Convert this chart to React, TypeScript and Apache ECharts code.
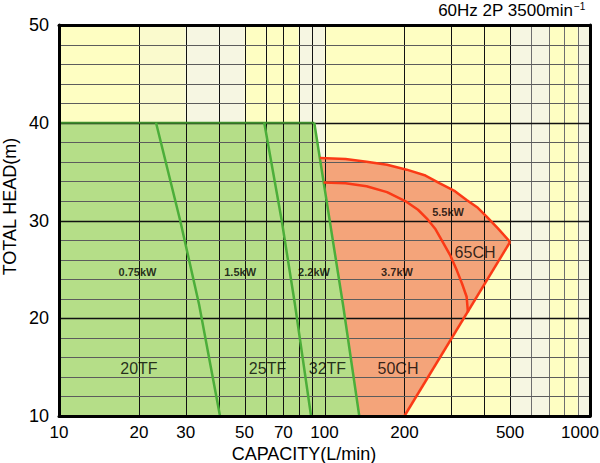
import React, { useEffect, useRef } from "react";
import * as echarts from "echarts";

// ---- axes ----
const xTickValues = [10, 20, 30, 50, 70, 100, 200, 500, 1000];
const yTickValues = [10, 20, 30, 40, 50];
const vGridValues = [20, 30, 40, 50, 60, 70, 80, 90, 100, 200, 300, 400, 500, 600, 700, 800, 900];
const vGridFaint = [600, 700, 800, 900];
const hGridValues = [12, 14, 16, 18, 20, 22, 24, 26, 28, 30, 32, 34, 36, 38, 40, 42, 44, 46, 48];
const hGridMajor = [20, 30, 40];

// ---- background stripes ----
const stripeFrom = [10, 20, 30, 40, 50, 60, 70, 80, 90, 100, 200, 300, 400, 500, 600, 700, 800, 900];
const stripeTo = [20, 30, 40, 50, 60, 70, 80, 90, 100, 200, 300, 400, 500, 600, 700, 800, 900, 1000];
const stripeTone = ["Y", "M", "P", "P", "Y", "Y", "Y", "P", "P", "Y", "Y", "Y", "Y", "P", "P", "Y", "Y", "P"];

// ---- pump ranges: [capacity L/min, total head m] ----
const tfArea = [[10, 10], [10, 40], [91.5, 40], [117.7, 21.2], [135.2, 10]];
const chArea = [[96, 36.4], [120, 36.3], [144, 36], [172, 35.7], [204, 35.2], [240, 34.6], [272, 33.8], [310, 33], [343, 32.1], [378, 31.3], [408, 30.4], [450, 29.2], [500, 27.8], [200, 10], [135.2, 10], [117.7, 21.2]];
const tfTopEdge = [[10, 40], [91.5, 40]];
const tfRightEdge = [[91.5, 40], [117.7, 21.2], [135.2, 10]];
const line075 = [[23.2, 40], [28.6, 30], [33.7, 21.4], [40.4, 10]];
const line15 = [[59.3, 40], [69, 30], [77.4, 21.4], [89, 10]];
const chOuter = [[96, 36.4], [120, 36.3], [144, 36], [172, 35.7], [204, 35.2], [240, 34.6], [272, 33.8], [310, 33], [343, 32.1], [378, 31.3], [408, 30.4], [450, 29.2], [500, 27.8]];
const chInner = [[99.2, 33.9], [120, 33.8], [144, 33.5], [172, 32.9], [204, 31.9], [225, 31.1], [243, 30.2], [262, 29.1], [280, 27.7], [298, 26.4], [315, 24.9], [330, 23.5], [343, 22.2], [347, 20.6]];
const chLower = [[500, 27.8], [200, 10]];

// ---- labels ----
const kwTexts = ["0.75kW", "1.5kW", "2.2kW", "3.7kW", "5.5kW"];
const kwQ = [19.75, 48.1, 91.3, 187.5, 292];
const kwH = [24.7, 24.7, 24.7, 24.7, 30.9];
const modelTexts = ["20TF", "25TF", "32TF", "50CH", "65CH"];
const modelQ = [20, 61, 102.6, 189.2, 369];
const modelH = [14.9, 14.9, 14.9, 14.9, 26.7];

const FONT = "'Liberation Sans', Arial, sans-serif";
const toneColor: Record<string, string> = { Y: "#fefec2", M: "#fafacd", P: "#f6f6e2" };
const GREEN_FILL = "#b5de88";
const ORANGE_FILL = "#f4a47a";
const GREEN_LINE = "#4cae3a";
const RED_LINE = "#fb3a16";

const crisp = (v: number) => Math.round(v) + 0.5;

export default function App() {
  const ref = useRef<HTMLDivElement>(null);
  useEffect(() => {
    if (!ref.current) return;
    const chart = echarts.init(ref.current, undefined, { renderer: "svg" });
    const gridItems = [
      ...vGridValues.map((v) => ({ dir: "v", v })),
      ...hGridValues.map((v) => ({ dir: "h", v })),
    ];
    const regions = [
      { pts: tfArea, color: GREEN_FILL },
      { pts: chArea, color: ORANGE_FILL },
    ];
    const axisLineStyle = { show: true, onZero: false, lineStyle: { color: "#000", width: 3 } };
    const option: any = {
      animation: false,
      backgroundColor: "#fff",
      grid: { left: 59, right: 10, top: 25, bottom: 47, outerBoundsMode: "none" },
      xAxis: [
        {
          type: "log",
          logBase: 10,
          min: 10,
          max: 1000,
          position: "bottom",
          z: 10,
          axisLine: axisLineStyle,
          axisTick: { show: false },
          minorTick: { show: false },
          splitLine: { show: false },
          axisLabel: {
            customValues: xTickValues,
            color: "#000",
            fontSize: 17,
            fontFamily: FONT,
            margin: 8,
            formatter: (v: number) => (v >= 1000 ? "{r|" + v + "}" : String(v)),
            rich: { r: { fontSize: 17, fontFamily: FONT, color: "#000", padding: [0, 20, 0, 0] } },
          },
        },
        {
          type: "log",
          logBase: 10,
          min: 10,
          max: 1000,
          position: "top",
          z: 10,
          axisLine: axisLineStyle,
          axisTick: { show: false },
          minorTick: { show: false },
          splitLine: { show: false },
          axisLabel: { show: false },
        },
      ],
      yAxis: [
        {
          type: "value",
          min: 10,
          max: 50,
          interval: 10,
          position: "left",
          z: 10,
          axisLine: axisLineStyle,
          axisTick: { show: false },
          splitLine: { show: false },
          axisLabel: { color: "#000", fontSize: 18, fontFamily: FONT, margin: 10, customValues: yTickValues },
        },
        {
          type: "value",
          min: 10,
          max: 50,
          interval: 10,
          position: "right",
          z: 10,
          axisLine: axisLineStyle,
          axisTick: { show: false },
          splitLine: { show: false },
          axisLabel: { show: false },
        },
      ],
      series: [
        {
          type: "custom",
          z: 1,
          silent: true,
          data: stripeFrom.map((f, i) => [f, 10, stripeTo[i]]),
          renderItem: (params: any, api: any) => {
            const i = params.dataIndex;
            const p0 = api.coord([stripeFrom[i], 50]);
            const p1 = api.coord([stripeTo[i], 10]);
            return {
              type: "rect",
              shape: { x: p0[0], y: p0[1], width: p1[0] - p0[0], height: p1[1] - p0[1] },
              style: { fill: toneColor[stripeTone[i]] },
            };
          },
        },
        {
          type: "custom",
          z: 2,
          silent: true,
          data: regions.map((r) => r.pts[0]),
          renderItem: (params: any, api: any) => {
            const r = regions[params.dataIndex];
            return {
              type: "polygon",
              shape: { points: r.pts.map((p) => api.coord(p)) },
              style: { fill: r.color },
            };
          },
        },
        {
          type: "custom",
          z: 3,
          silent: true,
          data: gridItems.map((g) => (g.dir === "v" ? [g.v, 10] : [10, g.v])),
          renderItem: (params: any, api: any) => {
            const g = gridItems[params.dataIndex];
            if (g.dir === "v") {
              const a = api.coord([g.v, 50]);
              const b = api.coord([g.v, 10]);
              const x = crisp(a[0]);
              const faint = vGridFaint.indexOf(g.v) >= 0;
              return {
                type: "line",
                shape: { x1: x, y1: a[1], x2: x, y2: b[1] },
                style: { stroke: faint ? "#6e6e6e" : "#111", lineWidth: 1 },
              };
            }
            const a = api.coord([10, g.v]);
            const b = api.coord([1000, g.v]);
            const major = hGridMajor.indexOf(g.v) >= 0;
            const y = crisp(a[1]);
            return {
              type: "line",
              shape: { x1: a[0], y1: y, x2: b[0], y2: y },
              style: { stroke: major ? "#111" : "#5c5c5c", lineWidth: major ? 1.5 : 1 },
            };
          },
        },
        { type: "line", z: 4, silent: true, symbol: "none", data: tfTopEdge, lineStyle: { color: "#3f8f2e", width: 2 } },
        { type: "line", z: 4, silent: true, symbol: "none", data: tfRightEdge, lineStyle: { color: GREEN_LINE, width: 2.5 } },
        { type: "line", z: 4, silent: true, symbol: "none", data: line075, lineStyle: { color: GREEN_LINE, width: 2.5 } },
        { type: "line", z: 4, silent: true, symbol: "none", data: line15, lineStyle: { color: GREEN_LINE, width: 2.5 } },
        { type: "line", z: 4, silent: true, symbol: "none", data: chOuter, lineStyle: { color: RED_LINE, width: 2.5 } },
        { type: "line", z: 4, silent: true, symbol: "none", data: chInner, lineStyle: { color: RED_LINE, width: 2.5 } },
        { type: "line", z: 4, silent: true, symbol: "none", data: chLower, lineStyle: { color: RED_LINE, width: 2.5 } },
        {
          type: "scatter",
          z: 5,
          silent: true,
          symbolSize: 0,
          data: kwTexts.map((t, i) => ({ name: t, value: [kwQ[i], kwH[i]] })),
          label: {
            show: true,
            position: "inside",
            formatter: (p: any) => p.name,
            color: "#000",
            fontSize: 11,
            fontWeight: "bold",
            fontFamily: FONT,
          },
        },
        {
          type: "scatter",
          z: 5,
          silent: true,
          symbolSize: 0,
          data: modelTexts.map((t, i) => ({ name: t, value: [modelQ[i], modelH[i]] })),
          label: {
            show: true,
            position: "inside",
            formatter: (p: any) => p.name,
            color: "#000",
            fontSize: 16,
            fontFamily: FONT,
          },
        },
      ],
      graphic: [
        {
          type: "text",
          x: 573,
          y: 10,
          style: { text: "60Hz 2P 3500min", align: "right", verticalAlign: "middle", fontSize: 17, fontFamily: FONT, fill: "#000" },
        },
        {
          type: "text",
          x: 574,
          y: 6,
          style: { text: "\u22121", align: "left", verticalAlign: "middle", fontSize: 10, fontFamily: FONT, fill: "#000" },
        },
        {
          type: "text",
          x: 304,
          y: 454,
          style: { text: "CAPACITY(L/min)", align: "center", verticalAlign: "middle", fontSize: 18, fontFamily: FONT, fill: "#000" },
        },
        {
          type: "text",
          x: 9.5,
          y: 206.5,
          rotation: Math.PI / 2,
          style: { text: "TOTAL HEAD(m)", align: "center", verticalAlign: "middle", fontSize: 18, fontFamily: FONT, fill: "#000" },
        },
      ],
    };
    chart.setOption(option);
    return () => chart.dispose();
  }, []);
  return <div ref={ref} style={{ position: "fixed", left: 0, top: 0, width: 600, height: 463 }} />;
}
